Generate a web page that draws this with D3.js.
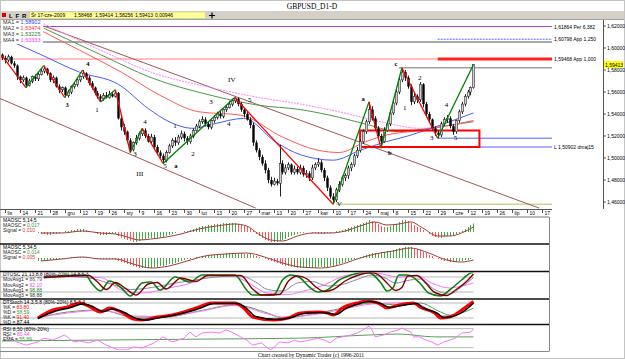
<!DOCTYPE html>
<html>
<head>
<meta charset="utf-8">
<title>GBPUSD_D1-D</title>
<script src="https://d3js.org/d3.v7.min.js"></script>
<style>
  body { margin: 0; background: #fff; }
  svg text { font-family: "Liberation Sans", Arial, sans-serif; fill: #000; }
  svg text.serif { font-family: "Liberation Serif", "Times New Roman", serif; }
</style>
</head>
<body>
<svg id="chart" width="625" height="359"></svg>
<script>
// ---- data ----

// daily candles [open, high, low, close]
var candles = [
[1.594,1.595,1.589,1.591],[1.591,1.593,1.586,1.589],[1.589,1.594,1.587,1.592],[1.592,1.593,1.585,1.586],
[1.586,1.588,1.582,1.584],[1.584,1.585,1.571,1.574],[1.574,1.575,1.568,1.571],[1.571,1.575,1.569,1.573],
[1.573,1.574,1.564,1.566],[1.566,1.572,1.565,1.570],[1.570,1.575,1.568,1.574],[1.574,1.576,1.570,1.572],
[1.572,1.578,1.570,1.576],[1.576,1.581,1.575,1.579],[1.579,1.584,1.577,1.581],[1.581,1.582,1.575,1.577],
[1.577,1.578,1.569,1.571],[1.571,1.575,1.568,1.573],[1.573,1.574,1.564,1.565],[1.565,1.567,1.559,1.562],
[1.562,1.565,1.560,1.564],[1.564,1.565,1.555,1.557],[1.557,1.562,1.555,1.560],[1.560,1.566,1.558,1.565],
[1.565,1.569,1.563,1.567],[1.567,1.573,1.565,1.571],[1.571,1.575,1.569,1.574],[1.574,1.580,1.572,1.577],
[1.577,1.578,1.571,1.573],[1.573,1.575,1.566,1.568],[1.568,1.570,1.562,1.564],[1.564,1.565,1.557,1.559],
[1.559,1.561,1.554,1.556],[1.556,1.558,1.551,1.554],[1.554,1.559,1.552,1.557],[1.557,1.560,1.554,1.555],
[1.555,1.561,1.554,1.558],[1.558,1.560,1.555,1.556],[1.556,1.562,1.555,1.559],[1.559,1.560,1.535,1.536],
[1.536,1.538,1.525,1.528],[1.528,1.531,1.521,1.524],[1.524,1.525,1.514,1.516],[1.516,1.518,1.505,1.508],
[1.508,1.515,1.506,1.514],[1.514,1.521,1.512,1.518],[1.518,1.524,1.516,1.522],[1.522,1.527,1.520,1.525],
[1.525,1.527,1.518,1.520],[1.520,1.522,1.514,1.515],[1.515,1.522,1.513,1.519],[1.519,1.521,1.508,1.510],
[1.510,1.512,1.503,1.505],[1.505,1.507,1.500,1.502],[1.502,1.504,1.495,1.498],[1.498,1.507,1.496,1.505],
[1.505,1.513,1.504,1.511],[1.511,1.518,1.509,1.516],[1.516,1.519,1.511,1.514],[1.514,1.521,1.512,1.519],
[1.519,1.525,1.517,1.522],[1.522,1.524,1.515,1.518],[1.518,1.520,1.512,1.515],[1.515,1.522,1.513,1.520],
[1.520,1.527,1.518,1.525],[1.525,1.531,1.524,1.529],[1.529,1.535,1.527,1.533],[1.533,1.538,1.531,1.535],
[1.535,1.537,1.529,1.531],[1.531,1.533,1.526,1.528],[1.528,1.535,1.526,1.534],[1.534,1.539,1.532,1.537],
[1.537,1.542,1.535,1.540],[1.540,1.543,1.536,1.538],[1.538,1.545,1.536,1.544],[1.544,1.548,1.542,1.546],
[1.546,1.552,1.545,1.549],[1.549,1.554,1.547,1.552],[1.552,1.555,1.550,1.554],[1.554,1.555,1.547,1.549],
[1.549,1.551,1.542,1.544],[1.544,1.545,1.537,1.540],[1.540,1.542,1.534,1.535],[1.535,1.537,1.527,1.530],
[1.530,1.532,1.511,1.514],[1.514,1.516,1.505,1.507],[1.507,1.509,1.498,1.501],[1.501,1.503,1.493,1.495],
[1.495,1.498,1.486,1.489],[1.489,1.491,1.477,1.480],[1.480,1.483,1.474,1.476],[1.476,1.482,1.475,1.479],
[1.479,1.481,1.475,1.477],[1.477,1.512,1.465,1.495],[1.495,1.498,1.485,1.487],[1.487,1.494,1.485,1.491],
[1.491,1.496,1.489,1.494],[1.494,1.495,1.485,1.487],[1.487,1.493,1.485,1.490],[1.490,1.492,1.485,1.487],
[1.487,1.494,1.485,1.491],[1.491,1.493,1.483,1.485],[1.485,1.489,1.482,1.486],[1.486,1.488,1.479,1.482],
[1.482,1.494,1.480,1.491],[1.491,1.496,1.489,1.494],[1.494,1.500,1.492,1.496],[1.496,1.498,1.487,1.489],
[1.489,1.491,1.479,1.482],[1.482,1.484,1.470,1.473],[1.473,1.475,1.463,1.465],[1.465,1.468,1.458,1.462],
[1.462,1.473,1.460,1.471],[1.471,1.479,1.469,1.476],[1.476,1.484,1.474,1.482],[1.482,1.486,1.479,1.484],
[1.484,1.493,1.481,1.491],[1.491,1.496,1.488,1.494],[1.494,1.504,1.492,1.502],[1.502,1.510,1.500,1.507],
[1.507,1.517,1.505,1.515],[1.515,1.526,1.513,1.524],[1.524,1.535,1.522,1.533],[1.533,1.551,1.531,1.544],
[1.544,1.547,1.534,1.536],[1.536,1.538,1.525,1.527],[1.527,1.529,1.517,1.520],[1.520,1.522,1.509,1.515],
[1.515,1.528,1.514,1.525],[1.525,1.534,1.524,1.531],[1.531,1.544,1.529,1.541],[1.541,1.553,1.539,1.550],
[1.550,1.563,1.548,1.560],[1.560,1.574,1.558,1.571],[1.571,1.582,1.569,1.578],[1.578,1.580,1.570,1.573],
[1.573,1.575,1.563,1.565],[1.565,1.567,1.548,1.551],[1.551,1.559,1.549,1.556],[1.556,1.558,1.550,1.553],
[1.553,1.569,1.551,1.567],[1.567,1.568,1.546,1.549],[1.549,1.551,1.537,1.540],[1.540,1.542,1.532,1.535],
[1.535,1.536,1.525,1.527],[1.527,1.529,1.520,1.523],[1.523,1.525,1.518,1.521],[1.521,1.533,1.519,1.531],
[1.531,1.537,1.529,1.535],[1.535,1.539,1.532,1.536],[1.536,1.538,1.527,1.529],[1.529,1.531,1.521,1.524],
[1.524,1.535,1.522,1.534],[1.534,1.544,1.532,1.542],[1.542,1.551,1.540,1.549],[1.549,1.558,1.547,1.556],
[1.556,1.562,1.554,1.560],[1.560,1.565,1.557,1.564],[1.564,1.585,1.563,1.585]
];

// weekly date labels (every 5 bars, first at bar 1)
var dateLabels = ["lis","14","21","28","gru","12","19","26","sty","9","16","23","30","lut","13","20","27",
  "mar","13","20","27","kwi","10","17","24","maj","8","15","22","29","cze","12","19","26","lip","10","17"];
var priceTicks = [1.62, 1.60, 1.58, 1.56, 1.54, 1.52, 1.50, 1.48, 1.46];
var lastPriceText = "1,59413";

// moving averages [bar, price]
var ma1 = [[4,1.605],[13,1.594],[26,1.578],[39,1.567],[49,1.545],[56,1.533],[64,1.527],[71,1.531],[81,1.536],
  [92,1.514],[100,1.503],[111,1.498],[120,1.507],[129,1.515],[136,1.520],[147,1.530],[158,1.541]];
var ma2 = [[13,1.616],[26,1.598],[40,1.578],[53,1.557],[66,1.542],[80,1.539],[94,1.519],[106,1.507],[113,1.505],
  [122,1.515],[129,1.521],[140,1.525],[158,1.534]];
var ma3 = [[14,1.618],[33,1.594],[50,1.573],[70,1.557],[86,1.548],[100,1.544],[113,1.537],[123,1.530],[133,1.524],
  [143,1.527],[158,1.533]];
var ma4 = [[14,1.622],[33,1.598],[50,1.578],[70,1.564],[86,1.555],[100,1.549],[113,1.542],[127,1.533],[140,1.527],
  [158,1.534]];
var maNames = ["MA1 = ", "MA2 = ", "MA3 = ", "MA4 = "];
var maValues = ["1,58902", "1,53474", "1,53225", "1,53333"];

// wave swing pivots [bar, price]
var pivots = [[0,1.593],[8,1.564],[14,1.584],[21,1.555],[27,1.580],[33,1.551],[38,1.562],[43,1.505],[47,1.527],
  [54,1.495],[78,1.555],[111,1.458],[123,1.551],[127,1.509],[134,1.582],[146,1.518],[158,1.585]];

// wave labels [text, bar, price, kind]
var waveLabels = [["3",21.8,1.549,"dark"],["4",28.8,1.586,"dark"],["1",31.8,1.544,"wave"],["3",44.6,1.504,"wave"],
  ["4",47.9,1.533,"wave"],["5",54.6,1.493,"wave"],["a",58.3,1.493,"dark"],["III",46.2,1.486,"deg"],
  ["1",58,1.530,"wave"],["2",64,1.504,"wave"],["3",70,1.551,"wave"],["4",76,1.531,"wave"],["IV",77,1.571,"deg"],
  ["5",83,1.553,"wave"],["V",113,1.4585,"grey"],["a",121,1.554,"dark"],["b",130,1.505,"dark"],["c",132,1.586,"dark"],
  ["1",135,1.546,"wave"],["2",140,1.573,"wave"],["3",144,1.519,"wave"],["4",149,1.549,"wave"],["5",152,1.519,"wave"]];

// horizontal levels
var levelValues = [1.6195, 1.6080, 1.6055, 1.5900, 1.5900, 1.5820, 1.5180, 1.5100, 1.4580];
var levelStart  = [-1, 146, -1, -1, 146, 133, 146, 160, 112];
var levelEnd    = [null, null, null, 146, null, null, null, null, null];
var levelTexts  = ["1,61864 Per 6,382", "1,60798 App 1,250", "", "", "1,59468 App 1,000", "", "", "L 1,50902 dmaj15", ""];

// trend channel lines [[bar, price], [bar, price]]
var channels = [[[14,1.620],[180,1.4545]], [[-1,1.5545],[85,1.4545]]];
// target box [bar0, bar1, priceTop, priceBottom]
var zoneBox = [120, 160, 1.525, 1.510];

// MAOSC 5,14,5 (per bar, from bar 12)
var oscStart = 12;
var maosc1 = [-.002,-.004,-.004,-.006,-.006,-.004,-.004,-.002, 0,.002,.002,.004,.004,.006,.006,
  .006,.004,.002,0,-.002,-.004,-.006, -.006,-.006,-.004,-.004,-.004,
  -.008,-.012,-.014,-.016,-.018,-.02,-.02,-.018,-.016,-.014, -.012,-.012,-.012,-.012,-.01,-.01,
  -.008,-.006,-.004,-.002,0,0,.002,.002,.004,.006,.008,.01, .012,.012,.014,.014,.016,.016,.016,.018,.018,.018,.018,.018,
  .016,.014,.012,.01,.008, .002,-.004,-.008,-.012,-.016,-.018,-.02,-.02, -.02,-.018,-.016,-.014,-.01,-.008,-.006,-.004,
  -.002,-.002,0,0,-.002,-.002,-.004,-.004,-.004,-.002,-.002,0,.002,.002,.004,
  .006,.008,.01,.012,.014,.016,.018,.02,.024,.022,.02, .016,.012,.01,.01,.012,.014,.016, .02,.024,.024,.022,.018,
  .014,.01,.008,.004,0,-.004,-.008,-.01,-.012, -.012,-.01,-.008,-.008,-.006,-.004,-.002,.002,.006,.01,.014,.017];
var signal1 = [[13,-.002],[20,-.002],[27,.002],[33,-.002],[38,-.004],[42,-.01],[46,-.016],[50,-.014],[55,-.01],[60,-.004],
  [66,.006],[72,.012],[78,.016],[82,.012],[86,-.004],[90,-.016],[94,-.018],[99,-.008],[104,-.002],[110,-.002],[115,.002],
  [120,.012],[125,.02],[129,.014],[133,.016],[137,.02],[141,.008],[146,-.008],[150,-.008],[154,-.002],[158,.01]];

// MAOSC 5,34,5
var maosc2 = [-.006,-.006,-.006,-.004,-.004,-.004,-.004,-.002, -.002,0,0,.002,.002,.002,.002, .002,.002,0,0,-.002,-.002,-.002,
  -.002,-.002,-.002,-.002,-.004, -.006,-.008,-.01,-.012,-.014,-.016,-.018,-.02,-.02,-.02, -.02,-.02,-.018,-.018,-.016,-.016,
  -.014,-.012,-.012,-.01,-.008,-.006,-.004,-.002,-.002,0,.002,.002, .004,.004,.006,.006,.006,.008,.008,.008,.01,.01,.01,.01,
  .01,.01,.008,.008,.008, .006,.004,.002,0,-.002,-.004,-.006,-.008, -.01,-.012,-.014,-.016,-.016,-.018,-.018,-.02,
  -.02,-.02,-.02,-.02,-.02,-.02,-.018,-.018,-.018,-.018,-.016,-.016,-.014,-.012,-.01,
  -.008,-.006,-.004,-.002,0,.002,.004,.006,.008,.01,.01, .01,.012,.012,.014,.014,.016,.018, .02,.02,.022,.022,.022,
  .02,.018,.016,.012,.01,.006,.004,0,-.002, -.004,-.006,-.006,-.008,-.008,-.008,-.006,-.006,-.004,-.004,-.002,0];
var signal2 = [[13,-.006],[20,-.002],[27,.002],[33,-.002],[38,-.002],[44,-.012],[50,-.02],[56,-.016],[62,-.006],[68,.004],
  [75,.008],[82,.01],[88,.002],[94,-.01],[100,-.018],[107,-.02],[113,-.014],[119,-.002],[125,.008],[131,.014],[137,.02],
  [143,.01],[149,-.004],[154,-.008],[158,-.004]];

// DTOSC lines [bar, value 0-100]
var dtoscFast = [[14,80],[19,84],[28,88],[30,56],[33,24],[36,64],[40,36],[43,4],[47,56],[50,60],[53,28],[58,80],[63,60],
  [67,88],[78,88],[82,28],[84,8],[91,8],[94,68],[97,88],[100,76],[103,40],[106,20],[109,28],[113,68],[117,88],[122,100],
  [124,92],[127,56],[129,24],[131,36],[133,88],[136,88],[140,56],[143,16],[147,4],[150,28],[154,68],[157,96],[158,100]];
var dtoscSlow = [[14,78],[20,82],[29,86],[32,60],[35,30],[38,58],[41,38],[45,8],[49,52],[52,58],[55,32],[60,76],[65,62],
  [69,86],[80,86],[84,32],[87,8],[93,10],[96,64],[99,84],[102,74],[105,42],[108,22],[111,30],[115,64],[119,86],[124,98],
  [126,90],[129,56],[132,26],[134,38],[136,84],[139,86],[142,56],[145,18],[149,6],[152,28],[156,66],[158,92]];
var dtoscAvg1 = [[14,76],[24,82],[31,72],[37,50],[43,30],[48,34],[53,44],[58,56],[64,66],[70,78],[80,84],[85,60],[89,30],
  [94,24],[99,56],[104,62],[109,44],[114,50],[119,70],[124,88],[128,78],[132,56],[136,66],[140,72],[145,30],[150,12],
  [154,40],[158,78]];
var dtoscAvg2 = [[14,88],[25,80],[33,78],[40,28],[47,16],[56,36],[64,58],[70,88],[77,86],[82,60],[89,16],[96,10],[100,20],
  [107,44],[116,88],[125,96],[133,80],[139,86],[144,56],[150,36],[154,44],[158,56]];

// DTStoch lines
var stochK = [[12,20],[17,52],[22,64],[26,80],[29,68],[33,44],[36,60],[40,44],[44,16],[47,12],[52,24],[57,32],[63,52],
  [66,64],[70,80],[78,80],[81,60],[84,24],[91,12],[96,20],[100,40],[106,44],[109,40],[111,32],[114,60],[119,80],[122,88],
  [126,80],[129,60],[133,72],[138,80],[140,64],[145,40],[147,20],[150,24],[155,60],[158,86]];
var stochD = [[12,18],[18,48],[23,62],[27,76],[30,68],[34,46],[37,56],[41,42],[45,18],[48,12],[53,22],[58,32],[64,50],
  [67,62],[71,78],[79,78],[82,58],[85,26],[92,14],[97,22],[101,38],[107,42],[110,38],[112,34],[115,56],[120,78],[123,86],
  [127,78],[130,62],[134,70],[139,78],[141,62],[146,38],[148,22],[151,26],[156,58],[158,80]];
var stochK2 = [[12,20],[22,44],[33,52],[44,24],[55,24],[66,48],[78,72],[89,40],[94,20],[106,40],[116,64],[124,80],[133,72],
  [140,80],[147,44],[150,32],[154,40],[158,60]];
var stochD2 = [[12,22],[22,40],[33,50],[44,28],[55,26],[66,46],[78,70],[89,36],[94,24],[106,36],[116,60],[124,76],[133,80],
  [140,72],[147,28],[152,32],[158,80]];

// RSI 8 and its EMA
var rsi = [[1,60],[5,38],[8,28],[12,38],[14,50],[17,44],[21,60],[24,38],[26,41],[29,35],[32,44],[35,28],[39,13],[42,13],
  [44,22],[47,19],[51,35],[54,54],[57,38],[61,50],[63,69],[65,54],[67,66],[70,69],[73,66],[75,76],[77,69],[80,54],[82,44],
  [84,28],[87,35],[89,19],[90,13],[92,28],[93,38],[96,35],[98,44],[100,38],[103,44],[106,50],[108,44],[110,35],[112,50],
  [114,54],[117,60],[119,66],[121,76],[123,88],[124,76],[125,54],[128,60],[130,69],[133,76],[134,82],[137,69],[138,54],
  [140,54],[142,44],[144,38],[146,28],[148,38],[150,44],[152,50],[154,66],[157,69],[158,79]];
var rsiEma = [[0,41],[67,47],[100,50],[123,60],[133,63],[145,54],[158,54]];

var panelTitles = ["MAOSC 5,14,5", "MAOSC 5,34,5", "DTOSC 21,13,8,8 (80%-20%) 14,8,5,3",
  "DTStoch 14,3,5,8 (80%-20%) 8,5,3,4", "RSI 8,50 (80%-20%)"];
var panelLegends = [
  [["MAOSC = ", "0,017", "#339933"], ["Signal = ", "0,010", "#cc3333"]],
  [["MAOSC = ", "0,014", "#339933"], ["Signal = ", "0,005", "#cc3333"]],
  [["MovAvg1 = ", "86,79", "#555555"], ["MovAvg2 = ", "92,10", "#ee44ee"], ["MovAvg1 = ", "98,88", "#228822"], ["MovAvg3 = ", "98,88", "#333333"]],
  [["%K = ", "83,80", "#ff0000"], ["%D = ", "58,59", "#339933"], ["%K = ", "91,40", "#ff0000"], ["%D = ", "87,44", "#000000"]],
  [["RSI = ", "80,44", "#ee44ee"], ["EMA = ", "55,89", "#339933"]]
];
var infoBox = ["\u015Ar 17-cze-2009", "1,58468", "1,59414", "1,58256", "1,59413", "0,00946"];

// ---- drawing ----
var svg = d3.select("#chart");
var x = d3.scaleLinear().domain([0, 100]).range([2, 300.4]);
var y = d3.scaleLinear().domain([1.46, 1.62]).range([202, 26]);
var plotTop = 20, plotBottom = 209, plotRight = 552, axisX = 603, panelRight = 549;

var fmtP = function (v) { return d3.format(".5f")(v).replace(".", ","); };

// frame + title + toolbar
svg.append("rect").attr("x", 0.5).attr("y", 0.5).attr("width", 624).attr("height", 358)
  .attr("fill", "#fff").attr("stroke", "#888").attr("stroke-dasharray", "1,1");
svg.append("text").attr("class", "serif").attr("x", 312).attr("y", 8.5).attr("text-anchor", "middle")
  .attr("font-size", 7.5).text("GBPUSD_D1-D");
svg.append("rect").attr("x", 1).attr("y", 11).attr("width", 623).attr("height", 8).attr("fill", "#d4d0c8");
svg.append("line").attr("x1", 1).attr("x2", 624).attr("y1", 19.5).attr("y2", 19.5).attr("stroke", "#a0a0a0");
svg.append("rect").attr("x", 2).attr("y", 13).attr("width", 4).attr("height", 4).attr("fill", "#e00000");
[["L", 9, "#000"], ["F", 15.5, "#000"], ["R", 22, "#c00000"]].forEach(function (b) {
  svg.append("text").attr("x", b[1]).attr("y", 17.5).attr("font-size", 6).attr("font-weight", "bold")
    .attr("fill", b[2]).text(b[0]);
});
svg.append("rect").attr("x", 29.5).attr("y", 12).attr("width", 176).attr("height", 6.5).attr("fill", "#ffff99")
  .attr("stroke", "#c8c870").attr("stroke-width", 0.5);
var infoX = [31, 74, 95, 115, 135, 155];
infoBox.forEach(function (t, k) {
  svg.append("text").attr("x", infoX[k]).attr("y", 17.3).attr("font-size", 5).text(t);
});
svg.append("path").attr("d", "M209,15.5h6M212,12.5v6").attr("stroke", "#000").attr("stroke-width", 1.2);

// main plot
svg.append("clipPath").attr("id", "mainClip").append("rect")
  .attr("x", 0).attr("y", plotTop).attr("width", plotRight).attr("height", plotBottom - plotTop);
var main = svg.append("g").attr("clip-path", "url(#mainClip)");

var levelStyle = [
  { c: "#a040c0", w: 1, t: "#a040c0" }, { c: "#5060ff", w: 1, d: "2,1", t: "#4050e0" }, { c: "#a8a8a8", w: 2 },
  { c: "#ff8080", w: 1 }, { c: "#ff2020", w: 3, t: "#ff2020" }, { c: "#a0a0a0", w: 1.5 },
  { c: "#5060ff", w: 1 }, { c: "#5060ff", w: 1, t: "#222" }, { c: "#c8d890", w: 1.5 }
];
levelValues.forEach(function (v, k) {
  var s = levelStyle[k];
  var x2 = levelEnd[k] == null ? plotRight : x(levelEnd[k]);
  main.append("line").attr("x1", Math.max(0, x(levelStart[k]))).attr("x2", x2)
    .attr("y1", y(v)).attr("y2", y(v)).attr("stroke", s.c).attr("stroke-width", s.w)
    .attr("stroke-dasharray", s.d || null);
  if (levelTexts[k]) {
    svg.append("text").attr("x", plotRight + 2).attr("y", y(v) + 2).attr("font-size", 5)
      .attr("fill", s.t).text(levelTexts[k]);
  }
});

channels.forEach(function (c) {
  main.append("line").attr("x1", x(c[0][0])).attr("y1", y(c[0][1])).attr("x2", x(c[1][0])).attr("y2", y(c[1][1]))
    .attr("stroke", "#a05858").attr("stroke-width", 1);
});

var maLine = d3.line().x(function (d) { return x(d[0]); }).y(function (d) { return y(d[1]); }).curve(d3.curveMonotoneX);
[[ma3, "#4a9a4a", null], [ma4, "#ff80ff", "2,1"], [ma2, "#ff5a5a", null], [ma1, "#4a5aff", null]].forEach(function (m) {
  main.append("path").attr("d", maLine(m[0])).attr("fill", "none").attr("stroke", m[1]).attr("stroke-width", 1)
    .attr("stroke-dasharray", m[2]);
});

main.append("rect").attr("x", x(zoneBox[0])).attr("y", y(zoneBox[2]))
  .attr("width", x(zoneBox[1]) - x(zoneBox[0])).attr("height", y(zoneBox[3]) - y(zoneBox[2]))
  .attr("fill", "none").attr("stroke", "#ff0000").attr("stroke-width", 2);

// candles
var cg = main.append("g");
candles.forEach(function (d, i) {
  var cx = Math.round(x(i)) + 0.5;
  cg.append("line").attr("x1", cx).attr("x2", cx).attr("y1", y(d[1])).attr("y2", y(d[2]))
    .attr("stroke", "#222").attr("stroke-width", 1);
  var up = d[3] >= d[0];
  var top = y(Math.max(d[0], d[3])), h = Math.max(1, Math.abs(y(d[0]) - y(d[3])));
  cg.append("rect").attr("x", cx - 1.2).attr("y", top).attr("width", 2.4).attr("height", h)
    .attr("fill", up ? "#d0d0d0" : "#000").attr("stroke", up ? "#333" : "none").attr("stroke-width", 0.6);
});

// swing lines
for (var k = 1; k < pivots.length; k++) {
  var a = pivots[k - 1], b = pivots[k];
  main.append("line").attr("x1", x(a[0])).attr("y1", y(a[1])).attr("x2", x(b[0])).attr("y2", y(b[1]))
    .attr("stroke", b[1] < a[1] ? "#ff0000" : "#008000").attr("stroke-width", 1.3);
}

var waveColor = { wave: "#3030c0", dark: "#222", deg: "#9a9a30", grey: "#888" };
waveLabels.forEach(function (w) {
  main.append("text").attr("class", "serif").attr("x", x(w[1])).attr("y", y(w[2]) + 2.5)
    .attr("text-anchor", "middle").attr("font-size", w[3] === "dark" ? 6.5 : 7)
    .attr("font-weight", w[3] === "dark" ? "bold" : null).attr("fill", waveColor[w[3]]).text(w[0]);
});

// MA legend
svg.append("rect").attr("x", 1).attr("y", 20).attr("width", 42).attr("height", 24).attr("fill", "#fff");
var maColors = ["#3040ff", "#ff3030", "#308030", "#ff40ff"];
maNames.forEach(function (n, k) {
  var t = svg.append("text").attr("x", 3).attr("y", 23.5 + 6.3 * k).attr("font-size", 5.5);
  t.append("tspan").attr("fill", "#333").text(n);
  t.append("tspan").attr("fill", maColors[k]).text(maValues[k]);
});

// price axis
svg.append("line").attr("x1", axisX + 0.5).attr("x2", axisX + 0.5).attr("y1", plotTop).attr("y2", plotBottom)
  .attr("stroke", "#555");
priceTicks.forEach(function (p) {
  svg.append("line").attr("x1", axisX).attr("x2", axisX + 3).attr("y1", y(p)).attr("y2", y(p)).attr("stroke", "#555");
  svg.append("text").attr("x", axisX + 4).attr("y", y(p) + 2).attr("font-size", 5).text(fmtP(p));
});
var lastY = y(candles[candles.length - 1][3]);
svg.append("rect").attr("x", axisX + 1).attr("y", lastY - 3.5).attr("width", 19).attr("height", 7).attr("fill", "#ffff00");
svg.append("text").attr("x", axisX + 2).attr("y", lastY + 2).attr("font-size", 5).text(lastPriceText);

// date axis
svg.append("line").attr("x1", 0).attr("x2", plotRight).attr("y1", plotBottom + 0.5).attr("y2", plotBottom + 0.5)
  .attr("stroke", "#555");
dateLabels.forEach(function (t, k) {
  var tx = Math.round(x(1 + 5 * k)) + 0.5;
  svg.append("line").attr("x1", tx).attr("x2", tx).attr("y1", plotBottom).attr("y2", plotBottom + 4).attr("stroke", "#555");
  svg.append("text").attr("x", tx + 2).attr("y", plotBottom + 6).attr("font-size", 5).text(t);
});

// ---- indicator panels ----
var panels = [[217, 244], [244, 271.5], [271.5, 299], [299, 324.5], [324.5, 351]];
panels.forEach(function (p, k) {
  svg.append("clipPath").attr("id", "pc" + k).append("rect")
    .attr("x", 0).attr("y", p[0] + 1).attr("width", panelRight).attr("height", p[1] - p[0] - 1.5);
});
function panel(k) { return svg.append("g").attr("clip-path", "url(#pc" + k + ")"); }

function histogram(g, values, ys, signal) {
  values.forEach(function (v, j) {
    var prev = j > 0 ? values[j - 1] : v;
    var bx = Math.round(x(oscStart + j)) + 0.5;
    g.append("line").attr("x1", bx).attr("x2", bx).attr("y1", ys(0)).attr("y2", ys(v))
      .attr("stroke", v >= prev ? "#44aa44" : "#ff5555").attr("stroke-width", 1);
  });
  var ln = d3.line().x(function (d) { return x(d[0]); }).y(function (d) { return ys(d[1]); }).curve(d3.curveMonotoneX);
  g.append("path").attr("d", ln(signal)).attr("fill", "none").attr("stroke", "#a03a3a").attr("stroke-width", 1);
}

var yA = d3.scaleLinear().domain([0, 0.02]).range([232, 222]);
var yB = d3.scaleLinear().domain([0, 0.02]).range([258, 248]);
var yC = d3.scaleLinear().domain([0, 100]).range([297, 272]);
var yD = d3.scaleLinear().domain([0, 100]).range([323, 298]);
var yE = d3.scaleLinear().domain([0, 100]).range([354, 322.3]);

histogram(panel(0), maosc1, yA, signal1);
histogram(panel(1), maosc2, yB, signal2);

function guides(g, ys, levels) {
  levels.forEach(function (v) {
    g.append("line").attr("x1", 0).attr("x2", x(candles.length - 1)).attr("y1", ys(v)).attr("y2", ys(v))
      .attr("stroke", "#b8b8b8").attr("stroke-width", 1);
  });
}
function lines(g, ys, defs, curve) {
  var ln = d3.line().x(function (d) { return x(d[0]); }).y(function (d) { return ys(d[1]); }).curve(curve);
  defs.forEach(function (s) {
    g.append("path").attr("d", ln(s[0])).attr("fill", "none").attr("stroke", s[1]).attr("stroke-width", s[2]);
  });
}

var gC = panel(2);
guides(gC, yC, [80, 20]);
lines(gC, yC, [[dtoscAvg2, "#ff70ff", 1], [dtoscAvg1, "#8a86a8", 1], [dtoscFast, "#108010", 1.6], [dtoscSlow, "#800000", 1.4]],
  d3.curveMonotoneX);

var gD = panel(3);
guides(gD, yD, [80, 20]);
lines(gD, yD, [[stochK2, "#55a055", 1], [stochD2, "#ff70ff", 1], [stochK, "#ff0000", 3], [stochD, "#000000", 1.5]],
  d3.curveMonotoneX);

var gE = panel(4);
guides(gE, yE, [80, 20]);
lines(gE, yE, [[rsiEma, "#55a055", 1]], d3.curveMonotoneX);
lines(gE, yE, [[rsi, "#ff70ff", 1]], d3.curveLinear);

// panel legends
panels.forEach(function (p, k) {
  var g = panel(k);
  var titleY = k === 4 ? p[0] + 6 : p[0] + 4.5;
  g.append("text").attr("x", 3).attr("y", titleY).attr("font-size", 5).attr("fill", "#222").text(panelTitles[k]);
  panelLegends[k].forEach(function (l, j) {
    var t = g.append("text").attr("x", 3).attr("y", titleY + 5.3 + 5.2 * j).attr("font-size", 5);
    t.append("tspan").attr("fill", "#222").text(l[0]);
    t.append("tspan").attr("fill", l[2]).text(l[1]);
  });
});

// panel frames
svg.append("line").attr("x1", 0).attr("x2", panelRight).attr("y1", 217).attr("y2", 217).attr("stroke", "#777");
[244, 271.5, 299, 324.5].forEach(function (s) {
  svg.append("line").attr("x1", 0).attr("x2", panelRight).attr("y1", s).attr("y2", s)
    .attr("stroke", "#111").attr("stroke-width", 1.5);
});
svg.append("line").attr("x1", 0).attr("x2", panelRight).attr("y1", 351.5).attr("y2", 351.5).attr("stroke", "#888");
svg.append("line").attr("x1", panelRight + 0.5).attr("x2", panelRight + 0.5).attr("y1", 217).attr("y2", 351.5)
  .attr("stroke", "#888");

svg.append("text").attr("class", "serif").attr("x", 311).attr("y", 357).attr("text-anchor", "middle")
  .attr("font-size", 5.5).text("Chart created by Dynamic Trader  (c) 1996-2011");
</script>
</body>
</html>
